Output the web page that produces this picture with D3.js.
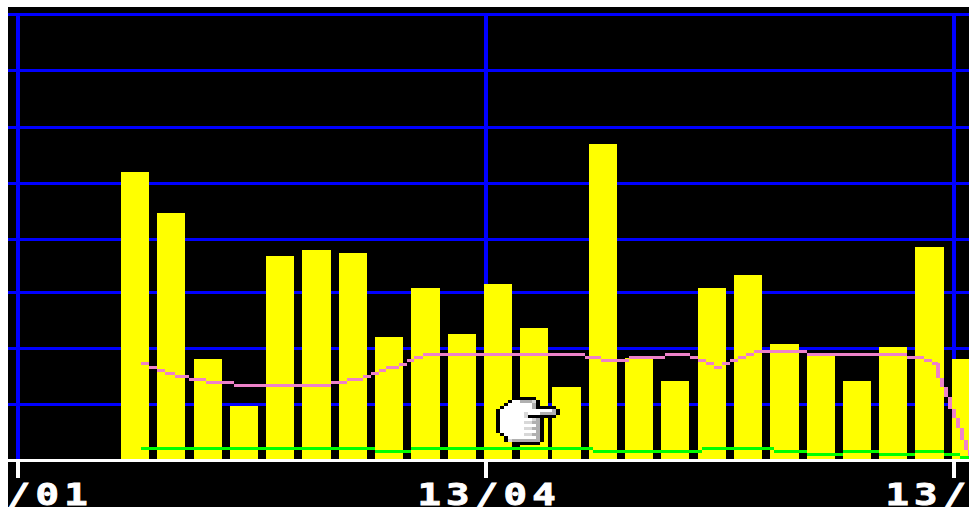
<!DOCTYPE html>
<html>
<head>
<meta charset="utf-8">
<script src="https://cdn.jsdelivr.net/npm/d3@7/dist/d3.min.js"></script>
<style>
html,body{margin:0;padding:0;background:#fff;overflow:hidden}
svg{display:block}
</style>
</head>
<body>
<svg id="chart" width="969" height="507"></svg>
<script>
// ---- data ----
const tickDays = [0, 90.5, 181];
const tickLabels = ["13/01", "13/04", "13/07"];
const gridValues = [10.04, 20.09, 30.13, 39.64, 49.69, 59.73, 69.96, 80];

const barDays = [22.66, 29.63, 36.78, 43.74, 50.70, 57.72, 64.82, 71.78, 78.80, 85.90, 92.86, 99.82,
                 106.07, 113.16, 120.13, 127.09, 134.24, 141.20, 148.22, 155.32, 162.28, 169.24, 176.26, 183.36];
const barValues = [51.75, 44.39, 18.21, 9.78, 36.68, 37.76, 37.22, 22.15, 30.94, 22.69, 31.66, 23.77,
                   13.18, 56.77, 18.39, 14.26, 30.94, 33.27, 20.90, 18.92, 14.26, 20.36, 38.30, 18.21];

const pinkDays = [23.79, 25.33, 26.88, 28.43, 30.36, 33.07, 36.35, 41.77, 60.53, 63.62, 66.71, 68.26,
                  69.81, 71.16, 73.68, 75.22, 76.58, 78.32, 109.64, 112.74, 118.15, 125.11, 129.95, 131.50,
                  133.04, 134.59, 136.14, 137.68, 139.23, 140.78, 142.32, 152.57, 171.91, 175.20, 176.74,
                  177.90, 178.68, 179.45, 180.22, 181.00, 181.77, 182.55, 183.32, 184.09, 184.48];
const pinkValues = [17.40, 16.77, 16.14, 15.61, 15.07, 14.53, 13.99, 13.45, 13.99, 14.53, 15.07, 15.61,
                    16.14, 16.68, 17.22, 17.85, 18.48, 19.01, 18.48, 17.94, 18.48, 19.01, 18.48, 17.94,
                    17.40, 16.77, 17.31, 17.85, 18.48, 19.01, 19.55, 19.01, 18.48, 17.94, 17.40,
                    14.80, 13.18, 11.39, 9.24, 7.62, 5.83, 3.68, 1.88, 0.81, 0.81];

const greenDays = [23.79, 69.04, 76.00, 111.19, 132.27, 146.19, 152.57, 159.53, 166.50, 173.46, 179.07, 182.16, 184.48];
const greenValues = [2.15, 1.61, 2.15, 1.61, 2.15, 1.61, 1.08, 1.61, 1.08, 1.61, 1.08, 0.54, 0.54];

// pointer cursor bitmap: K black, W white, L light grey, G grey
const handRows = [
  "....KKKKKK......",
  "...KWWGGGLK.....",
  "..KWWWWWWGK.....",
  ".KWWWWWWWGKKKKK.",
  "KWWWWWWWWWWWWWGK",
  "KWWWWWWLWWWGGGGK",
  "KWWWWWWLKKKKKKK.",
  "KWWWWWWWWLGK....",
  "KWWWWWWLLGGK....",
  "KWWWWWWWWWGK....",
  "KWWWWWWLLGGK....",
  "KWWWWWWWWWGK....",
  ".KWWWWWLLGGK....",
  "..KWWWWWWWGK....",
  "..KLGGGGGGGK....",
  "....KKKKKKK....."
];
const handColors = {K:"#000000", W:"#ffffff", L:"#d8d8d8", G:"#b0b0b0"};

// ---- scales ----
const W = 969, H = 507;
const x = d3.scaleLinear().domain([0, 181]).range([18, 954]);
const y = d3.scaleLinear().domain([0, 80]).range([460.5, 14.5]);
const barWidth = 28.4;

const svg = d3.select("#chart").attr("shape-rendering", "crispEdges");

svg.append("defs").append("clipPath").attr("id", "plotClip")
  .append("rect").attr("x", 8).attr("y", 7).attr("width", W - 8).attr("height", H - 7);

svg.append("rect").attr("x", 8).attr("y", 7).attr("width", W - 8).attr("height", H - 7).attr("fill", "#000");

const plot = svg.append("g").attr("clip-path", "url(#plotClip)");

// grid
plot.append("g").selectAll("rect").data(gridValues).join("rect")
  .attr("x", 8).attr("width", W - 8).attr("height", 3)
  .attr("y", d => Math.round(y(d) - 1.5)).attr("fill", "#0000ff");
plot.append("g").selectAll("rect").data(tickDays).join("rect")
  .attr("x", d => Math.round(x(d) - 2)).attr("width", 4)
  .attr("y", y(80) - 1.5).attr("height", y(0) - y(80))
  .attr("fill", "#0000ff");

// bars
plot.append("g").selectAll("rect").data(barDays).join("rect")
  .attr("x", d => Math.round(x(d) - barWidth / 2))
  .attr("width", d => Math.round(x(d) + barWidth / 2) - Math.round(x(d) - barWidth / 2))
  .attr("y", (d, i) => Math.round(y(barValues[i])))
  .attr("height", (d, i) => Math.round(y(0)) - Math.round(y(barValues[i])))
  .attr("fill", "#ffff00");

// low-resolution stepped lines: one block per step, as the original raster draws them
function stepBlocks(days, values) {
  const out = [];
  days.forEach((d, i) => {
    const py = y(values[i]);
    const prev = i > 0 ? y(values[i - 1]) : py;
    if (Math.abs(py - prev) > 5) {
      out.push({x0: Math.round(x(d) - 2), x1: Math.round(x(d) + 2),
                y0: Math.round(Math.min(py, prev)), y1: Math.round(Math.max(py, prev))});
    } else if (i < days.length - 1) {
      const top = Math.round(py - 1.5);
      out.push({x0: Math.round(x(d)), x1: Math.round(x(days[i + 1])), y0: top, y1: top + 3});
    }
  });
  return out;
}
function drawSteps(days, values, color) {
  plot.append("g").attr("fill", color).selectAll("rect").data(stepBlocks(days, values)).join("rect")
    .attr("x", d => d.x0).attr("width", d => d.x1 - d.x0)
    .attr("y", d => d.y0).attr("height", d => d.y1 - d.y0);
}
drawSteps(greenDays, greenValues, "#00ff00");
drawSteps(pinkDays, pinkValues, "#ee82c8");

// baseline
plot.append("line").attr("x1", 8).attr("x2", W).attr("y1", y(0)).attr("y2", y(0))
  .attr("stroke", "#fff").attr("stroke-width", 3);

// axis
const axis = d3.axisBottom(x).tickValues(tickDays).tickSize(17.5).offset(0)
  .tickFormat((d, i) => tickLabels[i]);
const axisG = plot.append("g").attr("transform", `translate(0,${y(0)})`).call(axis);
axisG.select(".domain").remove();
axisG.selectAll(".tick line").attr("stroke", "#fff").attr("stroke-width", 4);
axisG.selectAll(".tick text")
  .attr("fill", "#fff").attr("stroke", "#fff").attr("stroke-width", 0.9)
  .attr("y", 45).attr("dy", 0).attr("x", 2.4)
  .attr("text-anchor", "middle")
  .attr("transform", "scale(1.3,1)")
  .attr("shape-rendering", "auto")
  .style("font-family", "'DejaVu Sans Mono', monospace")
  .style("font-weight", "700").style("font-size", "30px")
  .style("letter-spacing", "4px");

// pointer cursor
const cells = [];
handRows.forEach((row, r) => row.split("").forEach((c, k) => { if (c !== ".") cells.push({r, k, c}); }));
svg.append("g").attr("transform", "translate(496,397)")
  .selectAll("rect").data(cells).join("rect")
  .attr("x", d => d.k * 4).attr("y", d => d.r * 3)
  .attr("width", 4).attr("height", 3)
  .attr("fill", d => handColors[d.c]);
</script>
</body>
</html>
